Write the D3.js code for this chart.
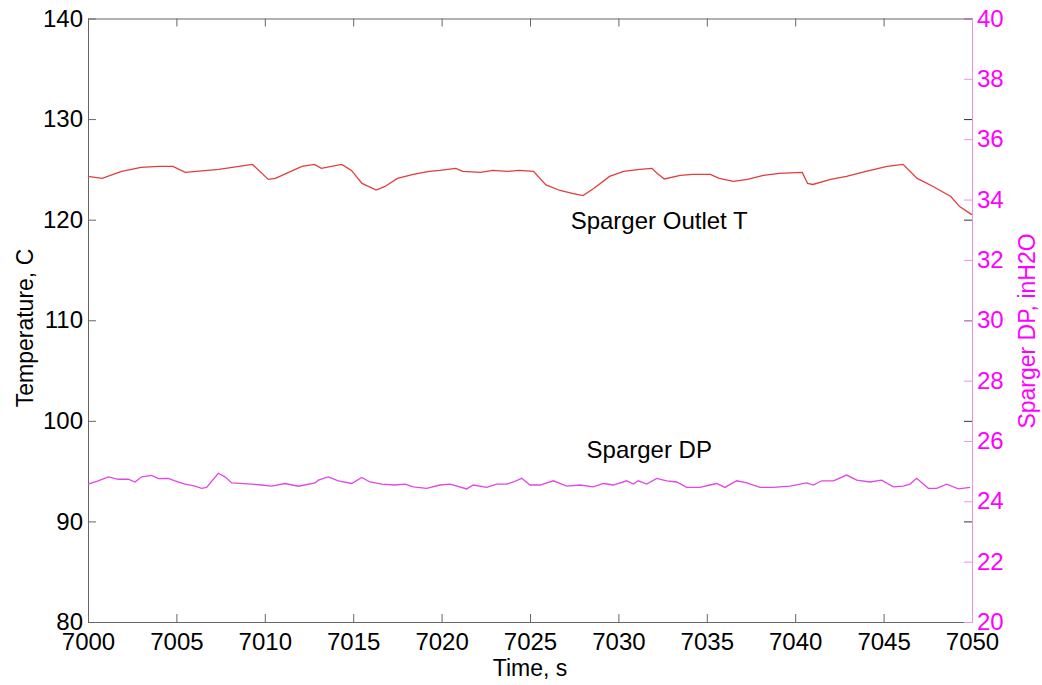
<!DOCTYPE html>
<html>
<head>
<meta charset="utf-8">
<script src="https://cdn.jsdelivr.net/npm/d3@7"></script>
<style>
  body { margin: 0; background: #fff; }
  text { font-family: "Liberation Sans", Arial, sans-serif; }
</style>
</head>
<body>
<script>
// temperature trace (s, C)
var tempTime = [7000, 7000.8, 7001.9, 7003.0, 7004.0, 7004.8, 7005.5, 7007.4, 7009.3, 7010.2, 7010.6, 7012.1, 7012.8, 7013.2, 7014.35, 7014.9, 7015.5, 7016.3, 7016.8, 7017.5, 7018.4, 7019.3, 7019.9, 7020.8, 7021.2, 7022.2, 7022.9, 7023.7, 7024.4, 7025.2, 7025.9, 7026.7, 7027.45, 7028.0, 7028.6, 7029.5, 7030.3, 7031.2, 7031.9, 7032.2, 7032.6, 7033.5, 7034.2, 7035.2, 7035.7, 7036.5, 7037.3, 7038.2, 7039.1, 7040.4, 7040.7, 7041.0, 7042.0, 7042.9, 7044.0, 7045.2, 7046.1, 7046.9, 7047.8, 7048.8, 7049.3, 7049.9, 7050];
var tempValue = [124.3, 124.1, 124.8, 125.2, 125.3, 125.3, 124.7, 125.0, 125.5, 124.0, 124.1, 125.3, 125.5, 125.1, 125.5, 124.9, 123.6, 122.95, 123.3, 124.1, 124.5, 124.8, 124.9, 125.1, 124.8, 124.7, 124.9, 124.8, 124.9, 124.8, 123.45, 122.9, 122.6, 122.4, 123.1, 124.3, 124.8, 125.0, 125.1, 124.6, 124.05, 124.4, 124.5, 124.5, 124.1, 123.8, 124.0, 124.4, 124.6, 124.7, 123.6, 123.5, 124.0, 124.3, 124.8, 125.3, 125.5, 124.1, 123.3, 122.3, 121.3, 120.6, 120.5];

// sparger DP trace (s, inH2O)
var dpTime = [7000.0, 7000.58, 7001.15, 7001.71, 7002.28, 7002.66, 7003.04, 7003.6, 7003.98, 7004.54, 7004.92, 7005.49, 7006.05, 7006.43, 7006.71, 7007.37, 7007.75, 7008.13, 7009.26, 7009.82, 7010.39, 7011.14, 7011.9, 7012.84, 7013.03, 7013.59, 7014.16, 7014.92, 7015.48, 7015.95, 7016.61, 7017.36, 7017.93, 7018.4, 7019.16, 7019.91, 7020.48, 7021.42, 7021.79, 7022.55, 7023.12, 7023.68, 7024.06, 7024.53, 7025.0, 7025.57, 7026.32, 7027.08, 7027.83, 7028.58, 7029.15, 7029.71, 7030.47, 7030.84, 7031.13, 7031.6, 7032.17, 7032.73, 7033.3, 7033.86, 7034.62, 7035.18, 7035.56, 7036.03, 7036.69, 7037.26, 7038.01, 7038.76, 7039.71, 7040.65, 7041.02, 7041.5, 7042.16, 7042.91, 7043.48, 7044.23, 7044.89, 7045.55, 7046.11, 7046.49, 7046.87, 7047.53, 7048.0, 7048.57, 7049.23, 7049.89];
var dpValue = [24.57, 24.68, 24.81, 24.73, 24.73, 24.64, 24.81, 24.86, 24.75, 24.76, 24.68, 24.57, 24.5, 24.43, 24.46, 24.93, 24.81, 24.61, 24.57, 24.54, 24.5, 24.59, 24.5, 24.61, 24.7, 24.81, 24.68, 24.59, 24.79, 24.64, 24.57, 24.54, 24.57, 24.48, 24.43, 24.54, 24.57, 24.41, 24.54, 24.46, 24.57, 24.57, 24.64, 24.76, 24.54, 24.54, 24.68, 24.5, 24.54, 24.48, 24.59, 24.54, 24.68, 24.57, 24.68, 24.57, 24.76, 24.68, 24.64, 24.46, 24.46, 24.54, 24.59, 24.46, 24.68, 24.61, 24.46, 24.46, 24.5, 24.61, 24.54, 24.68, 24.68, 24.87, 24.7, 24.64, 24.7, 24.48, 24.5, 24.57, 24.76, 24.43, 24.43, 24.57, 24.41, 24.46];

var xTicks = [7000, 7005, 7010, 7015, 7020, 7025, 7030, 7035, 7040, 7045, 7050];
var leftTicks = [80, 90, 100, 110, 120, 130, 140];
var rightTicks = [20, 22, 24, 26, 28, 30, 32, 34, 36, 38, 40];

var width = 1042;
var height = 685;
var margin = { left: 88, right: 70, top: 18.5, bottom: 63 };
var magenta = "#ff00ff";

var x = d3.scaleLinear().domain([7000, 7050]).range([margin.left, width - margin.right]);
var yT = d3.scaleLinear().domain([80, 140]).range([height - margin.bottom, margin.top]);
var yP = d3.scaleLinear().domain([20, 40]).range([height - margin.bottom, margin.top]);

var svg = d3.select("body").append("svg")
  .attr("width", width)
  .attr("height", height);

var tickLen = 8;

function styleAxis(g, col, lineCol) {
  g.selectAll("text")
    .style("font-size", "24px")
    .attr("fill", col);
  g.selectAll("line").attr("stroke", lineCol);
  g.select(".domain").attr("stroke", lineCol);
}

// bottom axis
svg.append("g")
  .attr("transform", "translate(0," + yT(80) + ")")
  .call(d3.axisBottom(x).tickValues(xTicks).tickFormat(d3.format("d"))
    .tickSizeInner(-tickLen).tickSizeOuter(0).tickPadding(11))
  .call(styleAxis, "#000", "#666");

// top axis, ticks only
svg.append("g")
  .attr("transform", "translate(0," + yT(140) + ")")
  .call(d3.axisTop(x).tickValues(xTicks).tickFormat("").tickSizeInner(-tickLen).tickSizeOuter(0))
  .call(styleAxis, "#000", "#666");

// left axis
svg.append("g")
  .attr("transform", "translate(" + x(7000) + ",0)")
  .call(d3.axisLeft(yT).tickValues(leftTicks).tickFormat(d3.format("d"))
    .tickSizeInner(-tickLen).tickSizeOuter(0).tickPadding(5))
  .call(styleAxis, "#000", "#666");

// mirror ticks of the left axis on the right side
svg.append("g")
  .attr("transform", "translate(" + x(7050) + ",0)")
  .call(d3.axisRight(yT).tickValues(leftTicks).tickFormat("").tickSizeInner(-tickLen).tickSizeOuter(0))
  .call(function(g) { g.selectAll("line").attr("stroke", "#333"); g.select(".domain").remove(); });

// right axis
svg.append("g")
  .attr("transform", "translate(" + x(7050) + ",0)")
  .call(d3.axisRight(yP).tickValues(rightTicks).tickFormat(d3.format("d"))
    .tickSizeInner(-tickLen).tickSizeOuter(0).tickPadding(5))
  .call(styleAxis, magenta, "#ee90ee");

// traces
var tempLine = d3.line()
  .x(function(d, i) { return x(tempTime[i]); })
  .y(function(d) { return yT(d); });

var dpLine = d3.line()
  .x(function(d, i) { return x(dpTime[i]); })
  .y(function(d) { return yP(d); });

svg.append("path")
  .datum(tempValue)
  .attr("d", tempLine)
  .attr("fill", "none")
  .attr("stroke", "#e23c3c")
  .attr("stroke-width", 1.3);

svg.append("path")
  .datum(dpValue)
  .attr("d", dpLine)
  .attr("fill", "none")
  .attr("stroke", "#e346e3")
  .attr("stroke-width", 1.3);

// annotations
svg.append("text")
  .attr("x", x(7027.3))
  .attr("y", yT(119.1))
  .style("font-size", "24px")
  .text("Sparger Outlet T");

svg.append("text")
  .attr("x", x(7028.2))
  .attr("y", yT(96.3))
  .style("font-size", "24px")
  .text("Sparger DP");

// axis titles
svg.append("text")
  .attr("x", x(7025))
  .attr("y", 676)
  .attr("text-anchor", "middle")
  .style("font-size", "23px")
  .text("Time, s");

svg.append("text")
  .attr("transform", "translate(33," + 328 + ") rotate(-90)")
  .attr("text-anchor", "middle")
  .style("font-size", "23px")
  .text("Temperature, C");

svg.append("text")
  .attr("transform", "translate(1035," + 331 + ") rotate(-90)")
  .attr("text-anchor", "middle")
  .style("font-size", "23px")
  .attr("fill", magenta)
  .text("Sparger DP, inH2O");
</script>
</body>
</html>
